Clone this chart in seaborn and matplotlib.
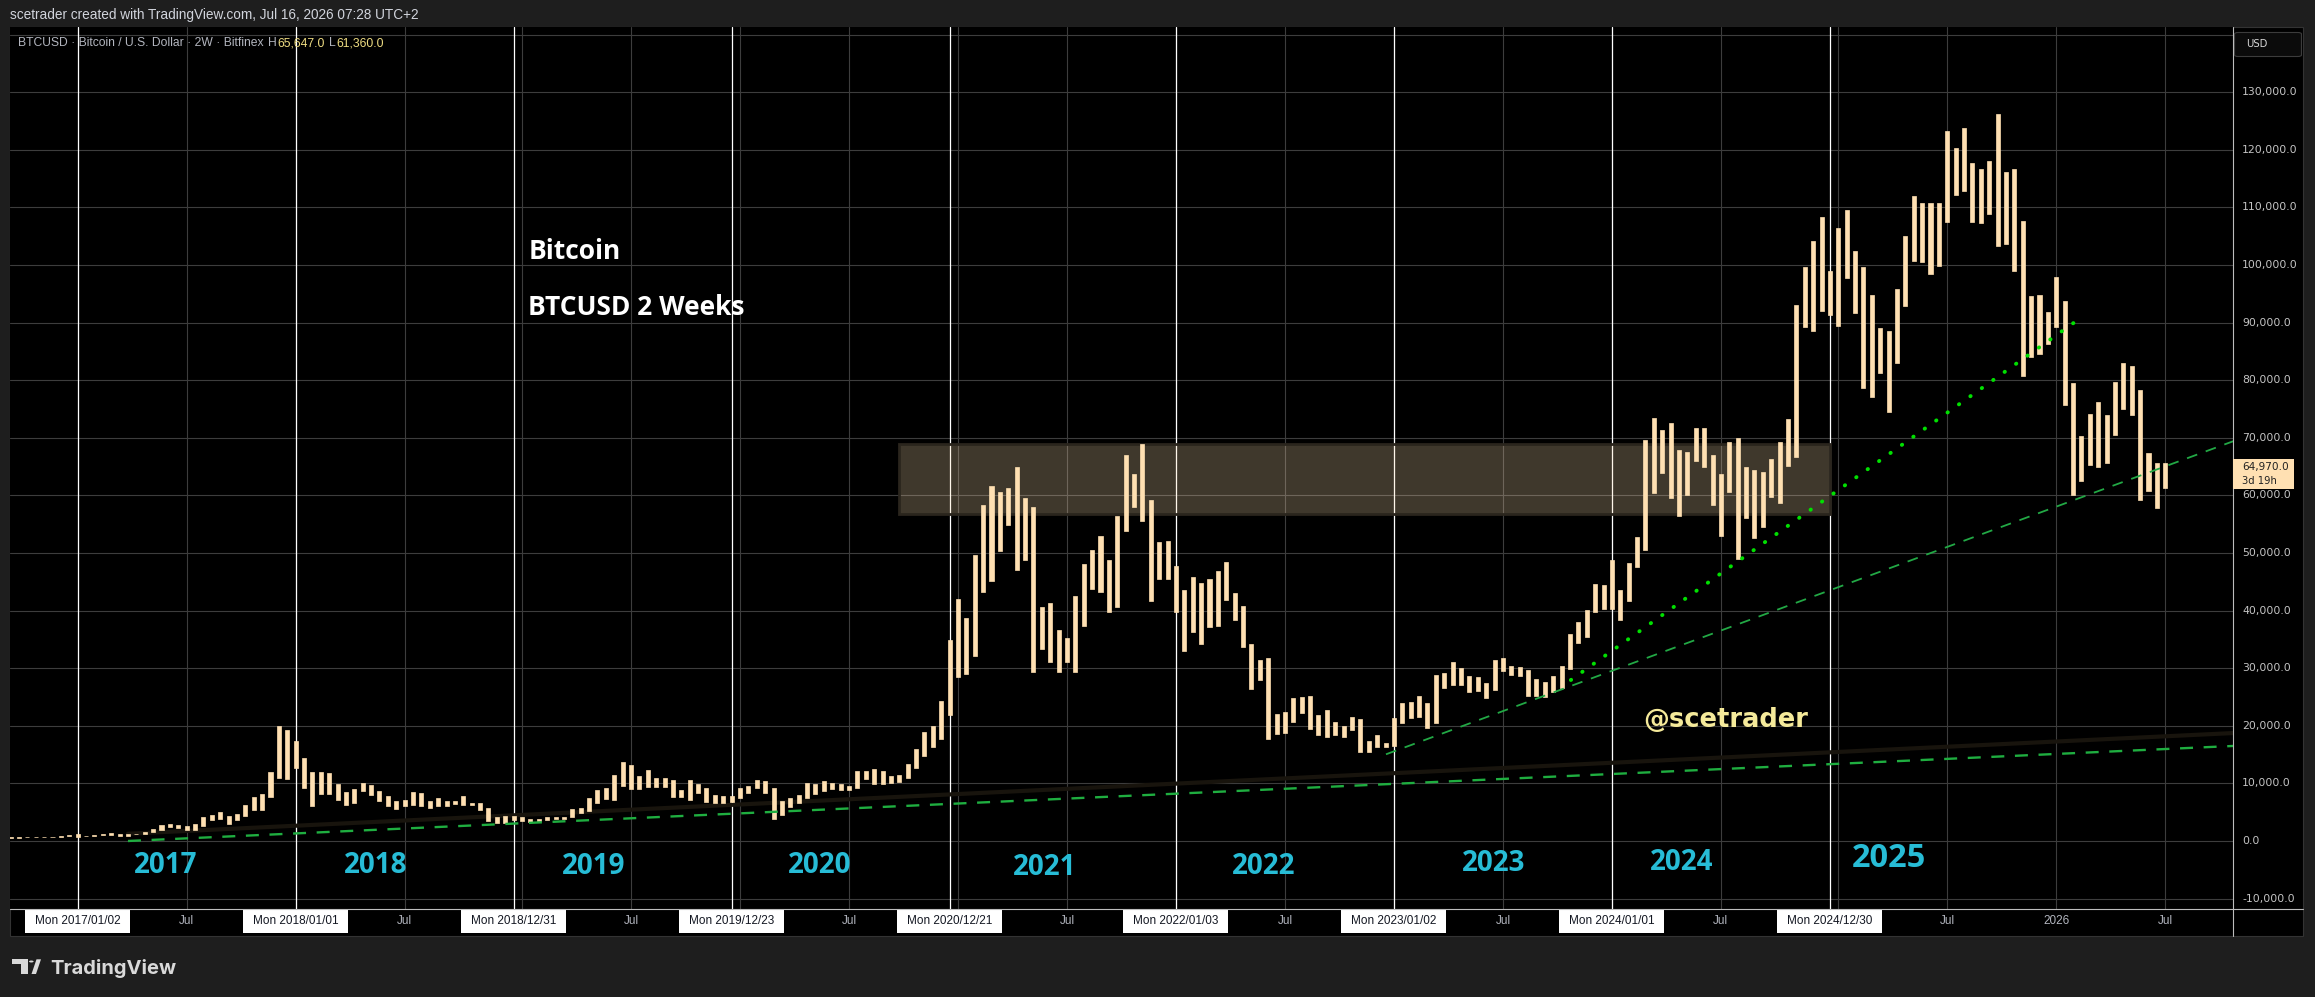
import numpy as np
import matplotlib
matplotlib.use("Agg")
import matplotlib.pyplot as plt
from matplotlib.patches import Rectangle, Polygon, Circle, FancyBboxPatch
from matplotlib.lines import Line2D
import seaborn as sns

W, H = 2315, 997

# BTCUSD Bitfinex, 2 week bars, low / high in thousands USD (first bar 2016-09-12)
lo_2016 = [0.59, 0.595, 0.63, 0.65, 0.69, 0.725, 0.755, 0.79]
hi_2016 = [0.615, 0.625, 0.66, 0.74, 0.75, 0.77, 0.795, 0.975]
lo_2017 = [0.75, 0.87, 0.92, 0.98, 1.1, 0.89, 0.93, 1.15, 1.23, 1.55, 1.9, 2.35, 2.3,
           1.85, 1.9, 2.65, 3.6, 3.9, 2.97, 3.6, 4.3, 5.3, 5.3, 7.7, 10.9, 10.7]
hi_2017 = [1.15, 0.94, 1.02, 1.21, 1.35, 1.25, 1.21, 1.26, 1.6, 2.1, 2.8, 2.99, 2.8,
           2.65, 2.9, 4.2, 4.5, 5.0, 4.4, 4.7, 6.3, 7.7, 8.1, 12.0, 19.9, 19.3]
lo_2018 = [12.6, 9.2, 6.0, 8.1, 8.1, 7.2, 6.3, 6.6, 8.6, 7.9, 7.0, 6.0, 5.6, 6.0,
           6.2, 6.0, 5.8, 6.1, 6.0, 6.4, 6.3, 6.2, 5.4, 3.5, 3.2, 3.2, 3.65]
hi_2018 = [17.4, 14.4, 11.9, 11.9, 11.8, 9.9, 8.5, 9.0, 10.0, 9.7, 8.75, 7.8, 7.0, 7.1,
           8.5, 8.3, 7.0, 7.4, 7.0, 7.0, 7.8, 6.6, 6.6, 5.8, 4.2, 4.35, 4.35]
lo_2019 = [3.5, 3.3, 3.4, 3.65, 3.8, 3.8, 4.1, 4.8, 5.2, 6.6, 7.3, 7.2, 9.6,
           9.1, 9.1, 9.4, 9.3, 9.4, 7.7, 7.7, 7.1, 8.3, 6.85, 6.55, 6.55, 6.85]
hi_2019 = [4.1, 3.8, 3.9, 4.2, 4.2, 4.2, 5.6, 5.7, 7.4, 8.9, 9.2, 11.5, 13.7,
           13.2, 11.2, 12.3, 10.9, 10.9, 10.6, 8.9, 10.6, 9.9, 9.15, 8.0, 7.8, 7.8]
lo_2020 = [7.4, 8.3, 9.15, 8.4, 3.9, 4.5, 5.85, 6.55, 7.5, 8.1, 8.7, 9.0, 8.9,
           8.9, 9.15, 10.8, 9.85, 9.85, 10.0, 10.3, 11.0, 12.7, 14.8, 16.3, 17.7, 21.8]
hi_2020 = [9.15, 9.55, 10.6, 10.4, 9.15, 6.95, 7.5, 7.9, 10.0, 9.9, 10.4, 10.0, 9.85,
           9.55, 12.2, 12.2, 12.5, 12.2, 11.3, 11.5, 13.4, 16.0, 18.9, 19.9, 24.3, 34.9]
lo_2021 = [28.4, 29.0, 32.2, 43.2, 45.1, 50.3, 54.9, 47.0, 48.8, 29.4, 33.3, 31.0, 29.3,
           31.0, 29.3, 37.3, 43.8, 43.2, 39.7, 40.7, 53.8, 58.0, 55.5, 41.6, 45.4, 45.5]
hi_2021 = [42.1, 38.8, 49.7, 58.3, 61.7, 60.6, 61.3, 64.9, 59.5, 58.0, 40.7, 41.3, 36.7,
           35.3, 42.5, 48.1, 50.6, 53.0, 48.8, 56.5, 67.0, 63.7, 69.0, 59.2, 51.9, 52.1]
lo_2022 = [39.7, 32.9, 36.2, 34.2, 37.1, 37.4, 41.9, 38.4, 33.6, 26.4, 28.0, 17.7, 18.5,
           18.8, 20.6, 22.3, 19.5, 18.4, 18.1, 18.4, 18.1, 19.2, 15.5, 15.4, 16.4, 16.3]
hi_2022 = [47.8, 43.6, 45.8, 44.8, 45.5, 46.9, 48.4, 43.0, 40.8, 34.2, 31.5, 31.7, 22.0,
           22.4, 24.8, 25.0, 25.2, 21.9, 22.8, 20.6, 20.0, 21.5, 21.1, 17.4, 18.4, 17.0]
lo_2023 = [16.5, 20.4, 21.4, 21.5, 19.6, 20.5, 26.5, 27.1, 27.0, 25.8, 26.1, 24.8, 26.2,
           29.6, 28.8, 28.6, 25.2, 25.2, 25.0, 25.9, 26.5, 29.8, 34.4, 35.5, 39.8, 40.2]
hi_2023 = [21.3, 23.9, 24.2, 25.2, 23.9, 28.9, 29.2, 31.0, 30.0, 28.6, 28.4, 27.4, 31.4,
           31.7, 30.4, 30.2, 29.7, 28.1, 27.6, 28.7, 30.4, 35.9, 38.0, 40.1, 44.6, 44.4]
lo_2024 = [40.2, 38.4, 41.7, 47.5, 50.6, 60.5, 63.9, 59.5, 56.5, 60.0, 65.9, 64.9, 58.3, 52.9,
           60.6, 48.9, 56.1, 52.6, 54.5, 59.7, 58.6, 65.1, 66.6, 89.3, 88.5, 92.1, 91.4]
hi_2024 = [48.7, 43.5, 48.3, 52.7, 69.6, 73.4, 71.3, 72.6, 67.9, 67.5, 71.7, 71.7, 67.1, 63.8,
           69.3, 70.0, 65.0, 64.4, 64.1, 66.3, 69.3, 73.3, 93.0, 99.6, 104.1, 108.4, 99.0]
lo_2025 = [89.4, 97.8, 91.7, 78.7, 77.0, 81.3, 74.5, 83.0, 92.9, 100.7, 100.6, 98.5, 99.9,
           107.5, 112.2, 112.8, 107.5, 107.3, 108.9, 103.3, 103.7, 99.0, 80.7, 84.1, 84.5, 86.3]
hi_2025 = [106.4, 109.6, 102.4, 99.6, 94.8, 89.0, 88.5, 95.8, 105.0, 112.0, 110.8, 110.8, 110.8,
           123.3, 120.3, 123.8, 117.7, 116.7, 118.1, 126.2, 116.2, 116.7, 107.6, 94.6, 94.8, 91.8]
lo_2026 = [89.3, 75.7, 60.1, 62.5, 65.3, 64.9, 65.7, 70.5, 75.0, 74.0, 59.2, 60.8, 57.8, 61.36]
hi_2026 = [97.9, 93.7, 79.5, 70.3, 74.1, 76.2, 73.9, 79.7, 83.0, 82.4, 78.3, 67.3, 65.7, 65.647]

lows = np.concatenate([lo_2016, lo_2017, lo_2018, lo_2019, lo_2020, lo_2021,
                       lo_2022, lo_2023, lo_2024, lo_2025, lo_2026]) * 1000
highs = np.concatenate([hi_2016, hi_2017, hi_2018, hi_2019, hi_2020, hi_2021,
                        hi_2022, hi_2023, hi_2024, hi_2025, hi_2026]) * 1000
bar_idx = np.arange(len(lows))

# vertical line drawings (bar index) and their time labels
vline_idx = [8, 34, 60, 86, 112, 139, 165, 191, 217]
vline_lbl = ["Mon 2017/01/02", "Mon 2018/01/01", "Mon 2018/12/31", "Mon 2019/12/23",
             "Mon 2020/12/21", "Mon 2022/01/03", "Mon 2023/01/02", "Mon 2024/01/01",
             "Mon 2024/12/30"]
jan_idx = [8, 34, 61, 87, 113, 139, 165, 191, 218, 244]
jul_idx = [21, 47, 74, 100, 126, 152, 178, 204, 231, 257]

year_txt = ["2017", "2018", "2019", "2020", "2021", "2022", "2023", "2024", "2025"]
year_x = [18.5, 43.5, 69.5, 96.5, 123.4, 149.5, 176.9, 199.3, 224.0]
year_y = [-5600, -5600, -5700, -5600, -5900, -5700, -5200, -5000, -4600]

# trend lines: (bar index, price)
dark_x, dark_y = [14.0, 265.1], [1260, 18740]
low_x, low_y = [14.0, 265.1], [0, 16500]
mid_x, mid_y = [164.05, 265.1], [15050, 69400]
dot_x, dot_y = [186.1, 246.8], [27950, 90700]

price_ticks = list(range(-10000, 130001, 10000))
last_price = 64970

BAR = "#ffe0b2"
GRID = "#3d3d3d"
UI = ["Liberation Sans", "DejaVu Sans"]

sns.set_theme(style="dark", rc={"figure.facecolor": "#1e1e1e",
                                "axes.facecolor": "#000000"})
plt.rcParams["font.family"] = ["DejaVu Sans"]


def fx(x):
    return x / W


def fy(y):
    return 1 - y / H


fig = plt.figure(figsize=(W / 100, H / 100), dpi=100)
fig.patches.append(Rectangle((fx(10), fy(936)), (2303 - 10) / W, (936 - 27) / H,
                             transform=fig.transFigure, facecolor="black",
                             edgecolor="#333333", lw=0.8, zorder=-5))

ax = fig.add_axes([fx(10), fy(909), (2233 - 10) / W, (909 - 27) / H])
ax.set_zorder(1)
ax.set_facecolor("black")
ax.set_xlim(-0.07, 265.08)
ax.set_ylim(-11806, 141319)
ax.set_xticks([])
ax.set_yticks([])
for s in ax.spines.values():
    s.set_visible(False)

for v in range(-10000, 140001, 10000):
    ax.axhline(v, color=GRID, lw=0.8, zorder=0)
for i in jan_idx + jul_idx:
    ax.axvline(i, color=GRID, lw=0.8, zorder=0)
for i in vline_idx:
    ax.axvline(i, color="white", lw=0.9, zorder=1)

# supply / demand box
ax.add_patch(Rectangle((106.0, 56800), 217 - 106.0, 69000 - 56800,
                       facecolor=(1, 0.878, 0.698, 0.25), edgecolor="#2a251d",
                       lw=2.0, zorder=1))

sns.lineplot(x=dark_x, y=dark_y, ax=ax, color="#18140d", lw=3.0, zorder=2)

ax.bar(bar_idx, highs - lows, bottom=lows, width=0.48, color=BAR, edgecolor=BAR,
       lw=0.5, zorder=3)

sns.lineplot(x=low_x, y=low_y, ax=ax, color="#1fae40", lw=1.7,
             linestyle=(0, (5.5, 4.5)), zorder=4)
sns.lineplot(x=mid_x, y=mid_y, ax=ax, color="#22a845", lw=1.3,
             linestyle=(0, (6, 5)), zorder=4)
sns.lineplot(x=dot_x, y=dot_y, ax=ax, color="#00e000", lw=2.8,
             linestyle=(0, (0.1, 3.5)), zorder=4)
ax.lines[-1].set_dash_capstyle("round")

# texts on the chart
ax.text(61.75, 101100, "Bitcoin", color="white", fontsize=19, fontweight="bold",
        family=["Open Sans", "DejaVu Sans"], va="baseline", zorder=5)
ax.text(61.75, 91300, "BTCUSD 2 Weeks", color="white", fontsize=19, fontweight="bold",
        family=["Open Sans", "DejaVu Sans"], va="baseline", zorder=5)
ax.text(194.7, 19800, "@scetrader", color="#f5ea9a", fontsize=18.5, fontweight="bold",
        va="baseline", zorder=5)
for t, x, y in zip(year_txt, year_x, year_y):
    ax.text(x, y, t, color="#27bcd6", fontsize=23.5 if t == "2025" else 20,
            fontweight="bold", family=["Open Sans", "DejaVu Sans"],
            ha="center", va="baseline", zorder=5)

# price scale
ytr = ax.get_yaxis_transform()
for v in price_ticks:
    ax.text(1.00415, v, f"{v:,.1f}", transform=ytr, color="#c4c4c4", fontsize=7.8,
            va="center", ha="left", clip_on=False)
fig.patches.append(Rectangle((fx(2233), fy(489.3)), 61 / W, 29.9 / H,
                             transform=fig.transFigure, facecolor=BAR, lw=0, zorder=3))
fig.text(fx(2242), fy(467), f"{last_price:,.1f}", color="#222222", fontsize=7.6,
         va="center", ha="left", zorder=4)
fig.text(fx(2242), fy(481), "3d 19h", color="#222222", fontsize=7.2,
         va="center", ha="left", zorder=4)
fig.patches.append(FancyBboxPatch((fx(2238), fy(55)), 60 / W, 21 / H,
                                  boxstyle="round,pad=0.0015", transform=fig.transFigure,
                                  facecolor="#0b0b0b", edgecolor="#3c3c3c", lw=0.8))
fig.text(fx(2246), fy(44), "USD", color="#d8d8d8", fontsize=7.2, va="center", ha="left")

# time scale
xtr = ax.get_xaxis_transform()
row_top, row_h = -(933 - 909) / 882, (933 - 910) / 882
for i, lbl in zip(vline_idx, vline_lbl):
    ax.add_patch(Rectangle((i - 52.5 / 8.384, row_top), 105 / 8.384, row_h,
                           transform=xtr, facecolor="white", lw=0, clip_on=False))
    ax.text(i, -(921.5 - 909) / 882, lbl, transform=xtr, color="#131722", fontsize=8.5,
            family=UI, ha="center", va="center", clip_on=False)
for i in jul_idx:
    ax.text(i, -(921.5 - 909) / 882, "Jul", transform=xtr, color="#b2b5be", fontsize=8.5,
            family=UI, ha="center", va="center", clip_on=False)
ax.text(244, -(921.5 - 909) / 882, "2026", transform=xtr, color="#b2b5be", fontsize=8.5,
        family=UI, ha="center", va="center", clip_on=False)

# separators of the panel
fig.lines.append(Line2D([fx(10), fx(2303)], [fy(909), fy(909)], transform=fig.transFigure,
                        color="#bdbdbd", lw=0.8, zorder=2))
fig.lines.append(Line2D([fx(2233), fx(2233)], [fy(27), fy(936)], transform=fig.transFigure,
                        color="#bdbdbd", lw=0.8, zorder=2))

# header and legend
fig.text(fx(10), fy(15), "scetrader created with TradingView.com, Jul 16, 2026 07:28 UTC+2",
         color="#d1d4dc", fontsize=9.8, family=UI, va="center", ha="left")

renderer = fig.canvas.get_renderer()
legend_parts = [("BTCUSD · Bitcoin / U.S. Dollar · 2W · Bitfinex", "#b2b5be", 0),
                ("H", "#b2b5be", 4), ("65,647.0", "#eedc82", 1),
                ("L", "#b2b5be", 4), ("61,360.0", "#eedc82", 1)]
cur = 18
for txt, col, gap in legend_parts:
    cur += gap
    t = fig.text(fx(cur), fy(43), txt, color=col, fontsize=8.7, family=UI,
                 va="center", ha="left", zorder=5)
    cur = t.get_window_extent(renderer).x1

# TradingView logo
logo = "#d9d9d9"
fig.patches.append(Rectangle((fx(12.3), fy(964.3)), 15.7 / W, 5 / H, transform=fig.transFigure,
                             facecolor=logo, lw=0))
fig.patches.append(Rectangle((fx(20.7), fy(974)), 7.3 / W, 14.7 / H, transform=fig.transFigure,
                             facecolor=logo, lw=0))
fig.patches.append(Circle((fx(31.3), fy(961.5)), 2.3 / W, transform=fig.transFigure,
                          facecolor=logo, lw=0))
fig.patches.append(Polygon([(fx(31.5), fy(974)), (fx(36), fy(974)), (fx(41), fy(959.3)),
                            (fx(36.5), fy(959.3))], closed=True, transform=fig.transFigure,
                           facecolor=logo, lw=0))
fig.text(fx(50), fy(974), "TradingView", color=logo, fontsize=14.5, fontweight="bold",
         family=["Inter", "DejaVu Sans"], va="baseline", ha="left")

fig.savefig("out.png", dpi=100, facecolor=fig.get_facecolor())
